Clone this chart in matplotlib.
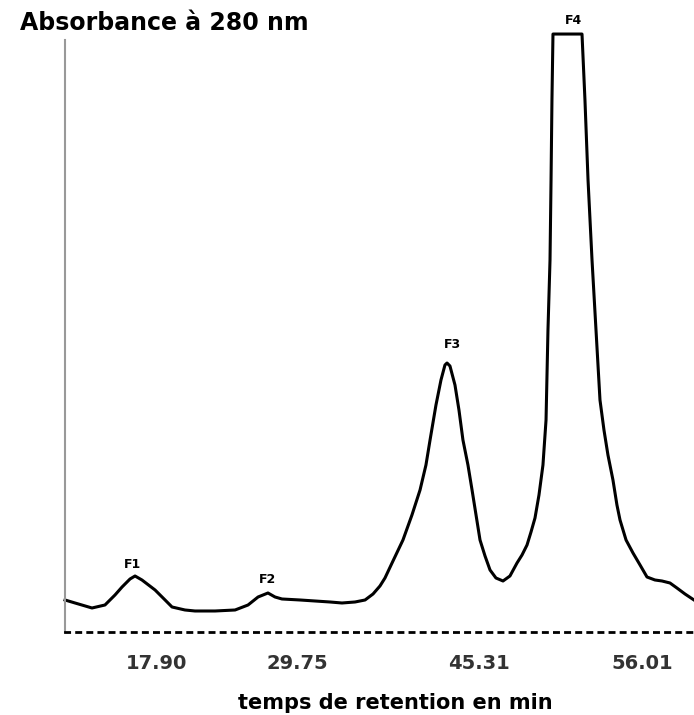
import matplotlib.pyplot as plt

# retention time (min) and absorbance (arbitrary units)
temps = [11.75, 12.63, 14.12, 15.26, 16.14, 16.76, 17.46, 17.90, 18.51, 19.66,
         20.54, 21.15, 22.29, 23.17, 24.93, 26.69, 27.83, 28.71, 29.58, 30.20,
         30.81, 32.40, 33.71, 35.03, 36.08, 37.23, 38.11, 38.81, 39.42, 39.86,
         40.48, 41.44, 42.23, 42.94, 43.46, 43.82, 44.34, 44.78, 45.13, 45.31,
         45.57, 46.01, 46.36, 46.71, 47.15, 47.51, 47.86, 48.21, 48.65, 49.09,
         49.61, 50.23, 50.84, 51.46, 51.90, 52.34, 52.69, 53.04, 53.39, 53.74,
         54.01, 54.18, 54.36, 54.45, 54.53, 54.62, 57.17, 57.43, 57.70, 58.05,
         58.40, 58.75, 59.10, 59.45, 59.89, 60.24, 60.51, 61.04, 61.65, 62.27,
         62.88, 63.58, 64.20, 64.90, 65.51, 66.22, 67.01]
absorb = [0.32, 0.29, 0.24, 0.27, 0.37, 0.45, 0.53, 0.56, 0.52, 0.42,
          0.32, 0.25, 0.22, 0.21, 0.21, 0.22, 0.27, 0.35, 0.39, 0.35,
          0.33, 0.32, 0.31, 0.30, 0.29, 0.30, 0.32, 0.38, 0.46, 0.54,
          0.69, 0.92, 1.17, 1.42, 1.67, 1.92, 2.27, 2.52, 2.67, 2.69,
          2.66, 2.47, 2.22, 1.92, 1.67, 1.42, 1.17, 0.92, 0.76, 0.62,
          0.54, 0.51, 0.56, 0.69, 0.77, 0.87, 1.00, 1.14, 1.37, 1.67,
          2.12, 3.02, 3.72, 4.52, 5.32, 5.98, 5.98, 5.32, 4.52, 3.72,
          3.02, 2.32, 2.02, 1.77, 1.52, 1.27, 1.12, 0.92, 0.79, 0.67,
          0.55, 0.52, 0.51, 0.49, 0.44, 0.38, 0.32]

# peak labels
pics = ["F1", "F2", "F3", "F4"]
pic_t = [17.90, 29.58, 45.31, 55.90]
pic_y = [0.56, 0.39, 2.69, 5.98]
pic_off = [(-3, 11), (0, 13), (5, 19), (6, 14)]

# tick labels (printed somewhat right of the peaks)
tick_pos = [19.83, 32.13, 48.12, 62.44]
tick_lab = ["17.90", "29.75", "45.31", "56.01"]

fig = plt.figure(figsize=(6.94, 7.15), dpi=100)
ax = fig.add_axes([0.0937, 0.1161, 0.9063, 0.8363])
ax.plot(temps, absorb, color="black", lw=2.2, clip_on=False, solid_joinstyle="round")
ax.set_xlim(11.75, 67.01)
ax.set_ylim(0, 5.98)

for nom, t, y, off in zip(pics, pic_t, pic_y, pic_off):
    ax.annotate(nom, (t, y), xytext=off, textcoords="offset pixels",
                ha="center", va="center", fontsize=9, fontweight="bold")

ax.spines["top"].set_visible(False)
ax.spines["right"].set_visible(False)
ax.spines["left"].set_color("#999999")
ax.spines["left"].set_linewidth(1.5)
ax.spines["left"].set_bounds(0, 5.92)
ax.spines["bottom"].set_linestyle((0, (1.5, 2.5)))
ax.spines["bottom"].set_linewidth(2)
ax.set_yticks([])
ax.set_xticks(tick_pos)
ax.set_xticklabels(tick_lab, fontsize=14, fontweight="bold", color="#333333")
ax.tick_params(axis="x", length=0, pad=16)

fig.text(20 / 694, 1 - 23 / 715, "Absorbance à 280 nm", ha="left", va="center",
         fontsize=17, fontweight="bold")
fig.text(395 / 694, 12 / 715, "temps de retention en min", ha="center", va="center",
         fontsize=15, fontweight="bold")

fig.savefig("out.png", dpi=100)
